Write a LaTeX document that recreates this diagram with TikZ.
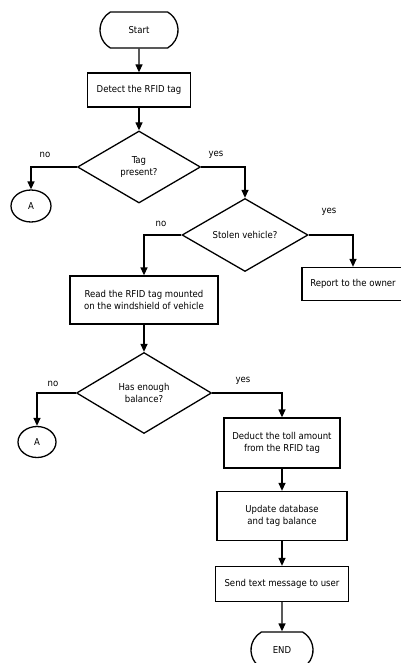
\documentclass[tikz,border=0pt]{standalone}
\usepackage{fontspec}
\setmainfont{DejaVu Sans Condensed}
\usetikzlibrary{shapes.geometric,shapes.misc,arrows.meta}
\begin{document}
\begin{tikzpicture}[x=1pt,y=-1pt,font=\fontsize{9.5}{12}\selectfont,
    line width=1.3pt,
    term/.style={rounded rectangle, draw, rounded rectangle arc length=120, inner sep=0pt},
    proc/.style={rectangle, draw, align=center, inner sep=0pt},
    test/.style={diamond, draw, aspect=1.7, align=center, inner sep=0pt},
    conn/.style={ellipse, draw, inner sep=0pt},
    flow/.style={-{Triangle[length=8pt,width=7pt]}},
    lbl/.style={inner sep=0pt}]
    \useasboundingbox (0,0) rectangle (400,663);

    \node[term, minimum width=78pt, minimum height=36pt] (start) at (139,30) {Start};
    \node[proc, minimum width=103pt, minimum height=34pt] (detect) at (139,90) {Detect the RFID tag};
    \node[test, minimum width=123pt, minimum height=72pt] (tag) at (139,167) {Tag\\present?};
    \node[conn, minimum width=40pt, minimum height=32pt] (a1) at (31,206) {A};
    \node[test, minimum width=126pt, minimum height=73pt] (stolen) at (245,235) {Stolen vehicle?};
    \node[proc, minimum width=102pt, minimum height=33pt] (report) at (353,284) {Report to the owner};
    \node[proc, minimum width=148pt, minimum height=48pt] (read) at (144,300) {Read the RFID tag mounted\\on the windshield of vehicle};
    \node[test, minimum width=135pt, minimum height=81pt] (balance) at (144,393) {Has enough\\balance?};
    \node[conn, minimum width=38pt, minimum height=31pt] (a2) at (37,442) {A};
    \node[proc, minimum width=116pt, minimum height=50pt] (deduct) at (282,443) {Deduct the toll amount\\from the RFID tag};
    \node[proc, minimum width=130pt, minimum height=49pt] (update) at (282,516) {Update database\\and tag balance};
    \node[proc, minimum width=133pt, minimum height=35pt] (send) at (282,584) {Send text message to user};
    \node[term, minimum width=62pt, minimum height=36pt] (end) at (282,650) {END};

    \node[lbl] (no1) at (45,155) {no};
    \node[lbl] (yes1) at (216,155) {yes};
    \node[lbl] (no2) at (161,224) {no};
    \node[lbl] (yes2) at (329,212) {yes};
    \node[lbl] (no3) at (53,384) {no};
    \node[lbl] (yes3) at (243,381) {yes};

    \draw[flow] (start) -- (detect);
    \draw[flow] (detect) -- (tag);
    \draw[flow] (tag.west) -| (a1.north);
    \draw[flow] (tag.east) -| (stolen.north);
    \draw[flow] (stolen.west) -| (read.north);
    \draw[flow] (stolen.east) -| (report.north);
    \draw[flow] (read) -- (balance);
    \draw[flow] (balance.west) -| (a2.north);
    \draw[flow] (balance.east) -| (deduct.north);
    \draw[flow] (deduct) -- (update);
    \draw[flow] (update) -- (send);
    \draw[flow] (send) -- (end);
\end{tikzpicture}
\end{document}
